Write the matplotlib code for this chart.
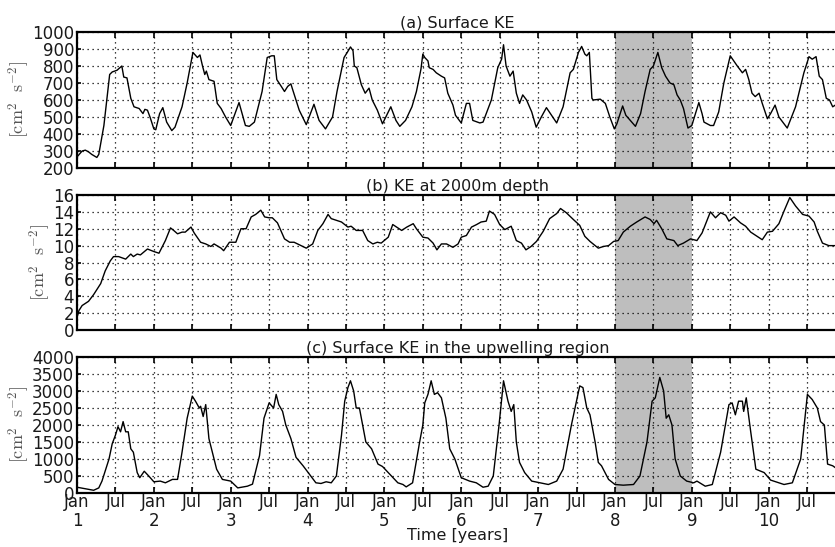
import matplotlib
matplotlib.use("Agg")
import matplotlib.pyplot as plt

# ---- data: (month since Jan of year 1, KE) ----
pts_a = [(0, 265), (0.8, 300), (1.3, 305), (1.8, 295), (2.3, 280), (3.1, 262), (3.4, 280), (4.2, 450),
         (5.1, 750), (5.5, 765), (6.25, 775), (7.0, 800), (7.3, 735), (7.8, 730), (8.4, 610), (8.9, 560),
         (9.7, 550), (10.3, 520), (10.6, 545), (11.0, 540), (11.4, 500), (12.0, 430), (12.3, 425),
         (12.9, 520), (13.4, 555), (14.0, 470), (14.8, 420), (15.3, 440), (16.4, 560), (17.2, 700),
         (18.1, 880), (18.8, 850), (19.2, 865), (19.6, 800), (19.95, 750), (20.2, 770), (20.6, 720),
         (21.4, 710), (21.9, 580), (22.5, 550), (23.2, 500), (24.0, 450), (25.3, 585), (26.3, 450),
         (26.9, 445), (27.7, 470), (28.9, 650), (29.7, 850), (30.4, 860), (30.8, 860), (31.2, 720),
         (31.9, 680), (32.4, 650), (32.9, 680), (33.4, 695), (33.6, 670), (34.7, 540), (35.8, 455),
         (37.0, 575), (37.8, 480), (38.8, 430), (39.9, 500), (40.6, 650), (41.7, 850), (42.2, 880),
         (42.7, 912), (43.1, 890), (43.3, 800), (43.7, 790), (44.4, 690), (45.0, 640), (45.6, 670),
         (46.1, 600), (46.9, 540), (47.7, 460), (49.0, 560), (49.8, 480), (50.4, 445), (51.3, 480),
         (52.3, 560), (53.0, 650), (53.7, 780), (54.0, 870), (54.3, 850), (54.8, 830), (55.0, 790),
         (55.6, 780), (56.1, 760), (56.9, 740), (57.4, 730), (57.9, 640), (58.7, 570), (59.1, 510),
         (60.0, 465), (60.8, 580), (61.3, 580), (61.8, 480), (62.9, 465), (63.4, 470), (64.7, 600),
         (65.7, 790), (66.3, 840), (66.6, 925), (67.0, 800), (67.6, 740), (68.1, 770), (68.6, 640),
         (69.1, 580), (69.6, 630), (70.2, 600), (71.0, 530), (71.7, 440), (72.5, 500), (73.3, 555),
         (74.1, 510), (74.9, 465), (75.9, 560), (77.0, 760), (77.5, 780), (78.3, 880), (78.8, 915),
         (79.3, 870), (79.6, 860), (80.0, 880), (80.4, 610), (80.6, 600), (81.7, 605), (82.5, 580),
         (83.2, 500), (83.9, 430), (84.3, 460), (85.2, 565), (85.7, 510), (86.4, 480), (87.2, 445),
         (88.0, 520), (88.7, 650), (89.5, 780), (90.0, 800), (90.7, 880), (91.3, 790), (91.9, 740),
         (92.6, 700), (93.2, 690), (93.7, 630), (94.2, 600), (94.7, 550), (95.4, 435), (96.0, 450),
         (97.1, 585), (97.6, 520), (97.9, 470), (98.9, 450), (99.4, 450), (100.2, 530), (101.0, 700),
         (102.0, 860), (103.1, 800), (103.9, 760), (104.4, 780), (104.9, 720), (105.4, 640),
         (105.9, 620), (106.5, 640), (107.0, 580), (107.8, 490), (108.3, 520), (109.0, 570),
         (109.6, 500), (110.9, 435), (112.2, 560), (113.5, 760), (114.3, 855), (114.8, 840),
         (115.4, 855), (115.9, 740), (116.4, 720), (117.0, 610), (117.5, 600), (118.0, 560),
         (118.4, 570), (118.75, 530)]

pts_b = [(0, 1.5), (0.3, 2.3), (0.8, 2.9), (1.8, 3.4), (2.6, 4.2), (3.7, 5.5), (4.4, 7.0), (5.2, 8.2),
         (5.7, 8.7), (6.5, 8.7), (7.6, 8.4), (8.4, 9.0), (8.8, 8.7), (9.4, 9.0), (9.9, 8.9), (11.0, 9.6),
         (12.0, 9.3), (12.8, 9.1), (13.8, 10.6), (14.6, 12.1), (15.1, 11.8), (15.7, 11.4), (16.4, 11.6),
         (16.9, 11.6), (17.8, 12.2), (18.3, 11.5), (19.3, 10.4), (20.1, 10.2), (20.9, 9.9), (21.4, 10.2),
         (22.5, 9.7), (22.9, 9.4), (23.8, 10.4), (24.8, 10.4), (25.6, 12.0), (26.4, 12.0), (27.2, 13.4),
         (27.9, 13.7), (28.7, 14.2), (29.3, 13.4), (30.0, 13.3), (30.5, 13.3), (31.3, 12.7), (32.4, 10.8),
         (33.2, 10.4), (33.9, 10.4), (34.7, 10.1), (35.8, 9.7), (36.8, 10.2), (37.6, 11.8), (38.4, 12.6),
         (39.2, 13.7), (39.7, 13.2), (40.5, 13.0), (41.3, 12.8), (42.3, 12.2), (42.8, 12.3), (43.6, 11.8),
         (44.6, 11.8), (45.4, 10.6), (46.2, 10.2), (46.9, 10.4), (47.5, 10.3), (48.6, 11.0), (49.3, 12.5),
         (50.1, 12.1), (50.7, 11.8), (51.5, 12.2), (52.5, 12.6), (53.0, 12.0), (54.0, 11.0), (54.8, 10.9),
         (55.6, 10.3), (56.2, 9.5), (56.9, 10.2), (57.7, 10.2), (58.7, 9.8), (59.5, 10.2), (60.0, 11.0),
         (60.8, 11.2), (61.6, 12.2), (62.4, 12.5), (63.1, 12.8), (63.9, 12.9), (64.4, 14.1), (65.2, 13.7),
         (66.0, 12.5), (66.8, 11.9), (67.8, 12.3), (68.6, 10.6), (69.4, 10.3), (70.1, 9.5), (70.9, 9.9),
         (71.75, 10.5), (72.8, 11.7), (73.8, 13.2), (74.9, 13.8), (75.5, 14.4), (76.4, 13.9), (77.5, 13.1),
         (78.5, 12.4), (79.3, 11.1), (80.1, 10.5), (81.4, 9.7), (82.2, 9.9), (83.0, 10.0), (83.8, 10.5),
         (84.5, 10.6), (85.3, 11.6), (86.4, 12.3), (87.4, 12.8), (88.7, 13.4), (89.5, 13.1), (90.1, 12.6),
         (90.5, 13.0), (91.3, 12.0), (92.1, 10.8), (93.2, 10.6), (93.8, 10.0), (94.7, 10.3), (95.8, 10.8),
         (96.8, 10.6), (97.6, 11.5), (98.9, 14.0), (99.7, 13.3), (100.5, 13.9), (101.3, 13.6),
         (101.8, 12.9), (102.6, 13.4), (103.6, 12.7), (104.4, 12.3), (105.2, 11.6), (106.0, 11.2),
         (107.0, 10.7), (107.8, 11.6), (108.6, 11.7), (109.6, 12.6), (110.4, 14.1), (111.3, 15.7),
         (112.2, 14.7), (113.3, 13.7), (114.3, 13.5), (115.1, 12.8), (115.6, 11.7), (116.4, 10.3),
         (117.4, 10.0), (118.75, 10.0)]

pts_c = [(0, 170), (2.6, 80), (3.4, 150), (3.9, 350), (5.0, 1000), (5.5, 1450), (6.0, 1700), (6.4, 1950),
         (6.8, 1800), (7.2, 2100), (7.6, 1800), (8.0, 1800), (8.4, 1300), (8.8, 1200), (9.4, 600),
         (9.8, 450), (10.5, 640), (11.2, 500), (12.0, 330), (13.0, 350), (13.8, 300), (14.9, 400),
         (15.7, 400), (16.4, 1200), (17.2, 2200), (18.0, 2850), (18.5, 2700), (19.1, 2500), (19.3, 2550),
         (19.7, 2250), (20.1, 2600), (20.6, 1600), (21.4, 1000), (21.8, 700), (22.7, 400), (24.0, 350),
         (25.1, 150), (26.6, 200), (27.4, 260), (28.5, 1100), (29.2, 2200), (30.0, 2650), (30.7, 2500),
         (31.1, 2900), (31.5, 2600), (32.1, 2400), (32.6, 2000), (33.4, 1600), (34.2, 1050), (35.3, 800),
         (36.3, 550), (37.3, 300), (38.1, 280), (38.9, 330), (39.7, 300), (40.5, 500), (41.3, 1700),
         (41.8, 2700), (42.3, 3100), (42.7, 3300), (43.2, 3000), (43.6, 2500), (44.1, 2500), (44.6, 2000),
         (45.1, 1500), (46.0, 1300), (47.0, 850), (47.7, 780), (48.6, 600), (50.1, 300), (50.9, 250),
         (51.4, 180), (52.4, 300), (53.5, 1500), (54.0, 2000), (54.3, 2650), (54.8, 2900), (55.3, 3300),
         (55.8, 2900), (56.3, 2950), (56.9, 2800), (57.6, 2200), (58.2, 1300), (59.0, 1000), (60.0, 450),
         (61.3, 350), (62.35, 300), (63.4, 170), (64.2, 200), (65.0, 500), (65.9, 2000), (66.6, 3300),
         (67.3, 2700), (67.8, 2400), (68.2, 2600), (68.6, 1500), (69.1, 900), (69.9, 600), (71.0, 350),
         (72.3, 300), (73.6, 250), (74.9, 350), (75.9, 700), (77.2, 2000), (78.5, 3150), (79.0, 3100),
         (79.6, 2500), (80.1, 2300), (80.9, 1500), (81.4, 900), (81.9, 800), (83.0, 400), (84.0, 250),
         (85.3, 230), (86.9, 250), (87.9, 500), (89.0, 1500), (89.8, 2700), (90.3, 2800), (91.0, 3400),
         (91.6, 3000), (92.0, 2200), (92.4, 2300), (92.9, 2000), (93.4, 1000), (94.2, 500), (95.2, 350),
         (96.3, 300), (96.8, 350), (98.1, 200), (99.2, 250), (100.5, 1200), (101.8, 2600), (102.3, 2650),
         (102.8, 2300), (103.3, 2700), (103.9, 2700), (104.1, 2400), (104.5, 2800), (105.2, 1800),
         (106.0, 700), (107.3, 600), (108.3, 380), (110.4, 250), (111.7, 300), (113.0, 1000),
         (114.05, 2900), (114.8, 2750), (115.6, 2500), (116.1, 2100), (116.7, 2000), (117.2, 850),
         (118.0, 800), (118.75, 700)]

tick_pos = list(range(0, 115, 6))
tick_labels = []
for i, p in enumerate(tick_pos):
    if i % 2 == 0:
        tick_labels.append("Jan\n%d" % (i // 2 + 1))
    else:
        tick_labels.append("Jul")

titles = ["(a) Surface KE", "(b) KE at 2000m depth", "(c) Surface KE in the upwelling region"]
ylims = [(200, 1000), (0, 16), (0, 4000)]
ysteps = [100, 2, 500]
shade = (84, 96)
xmax = 118.75

plt.rcParams['mathtext.fontset'] = 'cm'
plt.rcParams['font.family'] = 'DejaVu Sans'

fig = plt.figure(figsize=(8.35, 5.47), dpi=100)
W, H = 835.0, 547.0
boxes = [(32, 168), (195, 330), (357, 493)]
series = [pts_a, pts_b, pts_c]

for k in range(3):
    top, bot = boxes[k]
    ax = fig.add_axes([77 / W, 1 - bot / H, 1.0 - 77 / W + 0.003, (bot - top) / H])
    t = [p[0] for p in series[k]]
    v = [p[1] for p in series[k]]
    ax.axvspan(shade[0], shade[1], color='#bebebe', lw=0, zorder=0.8)
    ax.plot(t, v, color='black', lw=1.0, zorder=3)
    ax.set_xlim(0, xmax)
    ax.set_ylim(*ylims[k])
    lo, hi = ylims[k]
    yt = list(range(lo, hi + 1, ysteps[k]))
    ax.set_yticks(yt)
    ax.set_xticks(tick_pos)
    ax.grid(True, linestyle=(0, (1, 3)), color='black', lw=0.9)
    ax.tick_params(direction='in', length=4, width=1.2, top=True, right=False,
                   labelsize=12, pad=2, labelcolor='#1a1a1a')
    ax.tick_params(axis='y', pad=2, length=3)
    for s in ax.spines.values():
        s.set_linewidth(1.6)
    ax.set_title(titles[k], fontsize=11.5, pad=3, color='#1a1a1a')
    ax.set_ylabel(r'$[\mathrm{cm}^2\ \ \mathrm{s}^{-2}]$', fontsize=13, color='#555555', labelpad=0)
    if k == 2:
        ax.set_xticklabels(tick_labels, linespacing=1.05)
        ax.tick_params(axis='x', pad=0)
        ax.set_xlabel("Time [years]", fontsize=11.5, labelpad=-1, color='#1a1a1a')
    else:
        ax.set_xticklabels([])

fig.savefig("out.png", dpi=100)
